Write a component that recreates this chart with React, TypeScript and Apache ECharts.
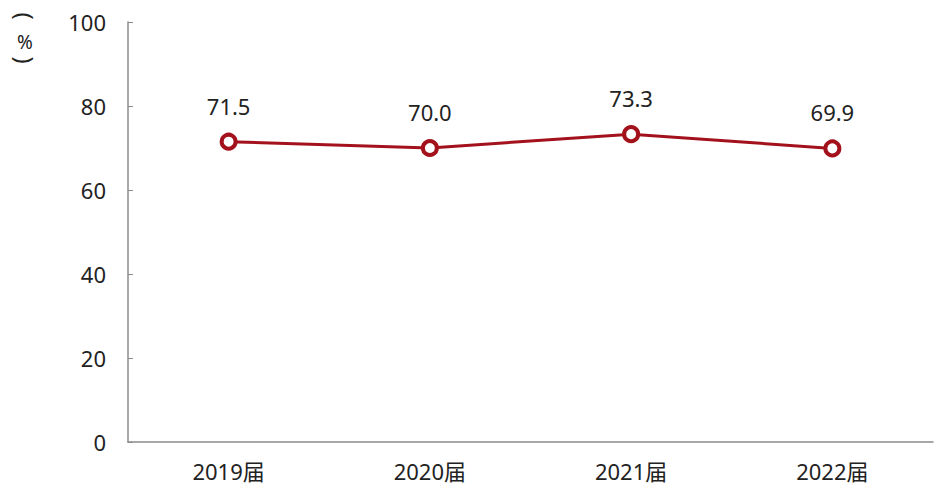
import React, { useEffect, useRef } from "react";
import * as echarts from "echarts";

const categories = ["2019届", "2020届", "2021届", "2022届"];
const values = [71.5, 70.0, 73.3, 69.9];
const yTicks = { min: 0, max: 100, interval: 20 };
const yName = ["(", "%", ")"];

export default function App() {
  const ref = useRef<HTMLDivElement>(null);
  useEffect(() => {
    document.body.style.margin = "0";
    const chart = echarts.init(ref.current!, null, { renderer: "svg" });
    const font = "'Noto Sans', 'Noto Sans CJK SC', sans-serif";
    const nameY = [16, 42, 60];
    const nameRot = [-Math.PI / 2, 0, -Math.PI / 2];
    const nameSize = [24, 19, 24];
    chart.setOption({
      animation: false,
      textStyle: { fontFamily: font },
      grid: { left: 128, right: 3, top: 22, bottom: 46, containLabel: false },
      graphic: yName.map((t, i) => ({
        type: "text",
        x: 25,
        y: nameY[i],
        rotation: nameRot[i],
        style: {
          text: t,
          fontSize: nameSize[i],
          fill: "#222",
          align: "center",
          verticalAlign: "middle",
          fontFamily: font,
        },
      })),
      xAxis: {
        type: "category",
        data: categories,
        boundaryGap: true,
        axisLine: { lineStyle: { color: "#8c8c8c", width: 1.5 } },
        axisTick: { inside: true, length: 6, lineStyle: { color: "#8c8c8c" } },
        axisLabel: { color: "#222", fontSize: 22, margin: 18, fontFamily: font },
      },
      yAxis: {
        type: "value",
        min: yTicks.min,
        max: yTicks.max,
        interval: yTicks.interval,
        splitLine: { show: false },
        axisLine: { show: true, lineStyle: { color: "#8c8c8c", width: 1.5 } },
        axisTick: { show: true, inside: true, length: 5, lineStyle: { color: "#8c8c8c" } },
        axisLabel: { color: "#222", fontSize: 22, margin: 22, fontFamily: font },
      },
      series: [
        {
          type: "line",
          data: values,
          symbol: "circle",
          symbolSize: 14,
          itemStyle: { color: "#fff", borderColor: "#a3121c", borderWidth: 4 },
          lineStyle: { color: "#a3121c", width: 3 },
          label: {
            show: true,
            position: "top",
            distance: 16,
            color: "#222",
            fontSize: 22,
            fontFamily: font,
            formatter: (p: any) => Number(p.value).toFixed(1),
          },
        },
      ],
    });
    return () => chart.dispose();
  }, []);
  return <div ref={ref} style={{ width: 936, height: 488 }} />;
}
